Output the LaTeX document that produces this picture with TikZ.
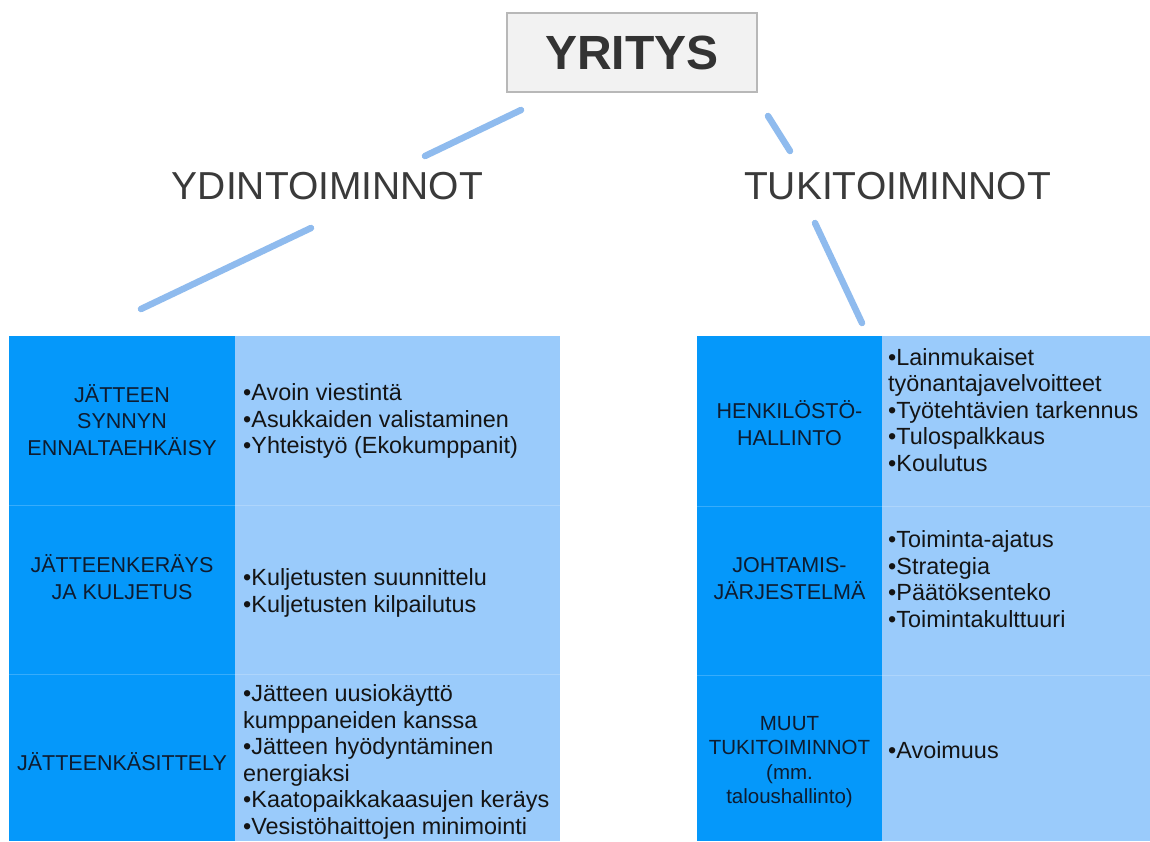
\documentclass[tikz,border=0pt]{standalone}
\usepackage{fontspec}
\setmainfont{Liberation Sans}
\definecolor{cellDark}{HTML}{0598FA}
\definecolor{cellLight}{HTML}{9ACBFB}
\definecolor{linkBlue}{HTML}{8FBBEE}
\definecolor{titleGray}{HTML}{3A3A3A}
\definecolor{labelInk}{HTML}{0E1C30}
\definecolor{bodyInk}{HTML}{141414}
\begin{document}
\begin{tikzpicture}[x=1pt,y=-1pt,
  rootbox/.style={draw=black!28, fill=black!5, line width=1.2pt, minimum width=250pt,
    minimum height=79pt, inner sep=0pt, text=black!80, font=\bfseries\fontsize{48}{52}\selectfont},
  branch/.style={text=titleGray, inner sep=0pt, font=\fontsize{39}{44}\selectfont},
  link/.style={linkBlue, line width=6.5pt, line cap=round},
  darkcell/.style={fill=cellDark},
  lightcell/.style={fill=cellLight},
  rowsep/.style={white, opacity=0.2, line width=0.8pt},
  label/.style={align=center, inner sep=0pt, text=labelInk, font=\fontsize{21.5}{26.5}\selectfont},
  body/.style={align=left, anchor=west, inner sep=0pt, text=bodyInk, font=\fontsize{23.4}{26.6}\selectfont}
]
\useasboundingbox (0,0) rectangle (1150,841);
\fill[white] (0,0) rectangle (1150,841);

% top box and the two branch titles
\node[rootbox] (root) at (632,52.5) {YRITYS};
\node[branch] (core) at (327.5,186) {YDINTOIMINNOT};
\node[branch] (support) at (897.5,186) {TUKITOIMINNOT};

% connector ends
\coordinate (r1) at (521,110);
\coordinate (c1) at (425,156);
\coordinate (c2) at (311,228);
\coordinate (t1) at (141,309);
\coordinate (r2) at (768,116);
\coordinate (s1) at (790,151);
\coordinate (s2) at (815,223);
\coordinate (t2) at (862,323);

\draw[link] (r1) -- (c1);
\draw[link] (c2) -- (t1);
\draw[link] (r2) -- (s1);
\draw[link] (s2) -- (t2);

% left table: core functions
\fill[darkcell] (9,336) rectangle (235,841);
\fill[lightcell] (235,336) rectangle (560,841);
\draw[rowsep] (9,505) -- (560,505);
\draw[rowsep] (9,674) -- (560,674);

\node[label] (l1) at (122,420) {JÄTTEEN\\SYNNYN\\ENNALTAEHKÄISY};
\node[body] (b1) at (243,421) {•Avoin viestintä\\•Asukkaiden valistaminen\\•Yhteistyö (Ekokumppanit)};

\node[label] (l2) at (122,577) {JÄTTEENKERÄYS\\JA KULJETUS};
\node[body] (b2) at (243,593) {•Kuljetusten suunnittelu\\•Kuljetusten kilpailutus};

\node[label] (l3) at (122,762) {JÄTTEENKÄSITTELY};
\node[body] (b3) at (243,762) {•Jätteen uusiokäyttö\\kumppaneiden kanssa\\•Jätteen hyödyntäminen\\energiaksi\\•Kaatopaikkakaasujen keräys\\•Vesistöhaittojen minimointi};

% right table: support functions
\fill[darkcell] (697,336) rectangle (882,841);
\fill[lightcell] (882,336) rectangle (1150,841);
\draw[rowsep] (697,506) -- (1150,506);
\draw[rowsep] (697,675) -- (1150,675);

\node[label] (l4) at (789.5,423) {HENKILÖSTÖ-\\HALLINTO};
\node[body] (b4) at (888,410) {•Lainmukaiset\\työnantajavelvoitteet\\•Työtehtävien tarkennus\\•Tulospalkkaus\\•Koulutus};

\node[label] (l5) at (789.5,578.5) {JOHTAMIS-\\JÄRJESTELMÄ};
\node[body] (b5) at (888,579) {•Toiminta-ajatus\\•Strategia\\•Päätöksenteko\\•Toimintakulttuuri};

\node[label, font=\fontsize{20.5}{24.5}\selectfont] (l6) at (789.5,762) {MUUT\\TUKITOIMINNOT\\(mm.\\taloushallinto)};
\node[body] (b6) at (888,750) {•Avoimuus};
\end{tikzpicture}
\end{document}
